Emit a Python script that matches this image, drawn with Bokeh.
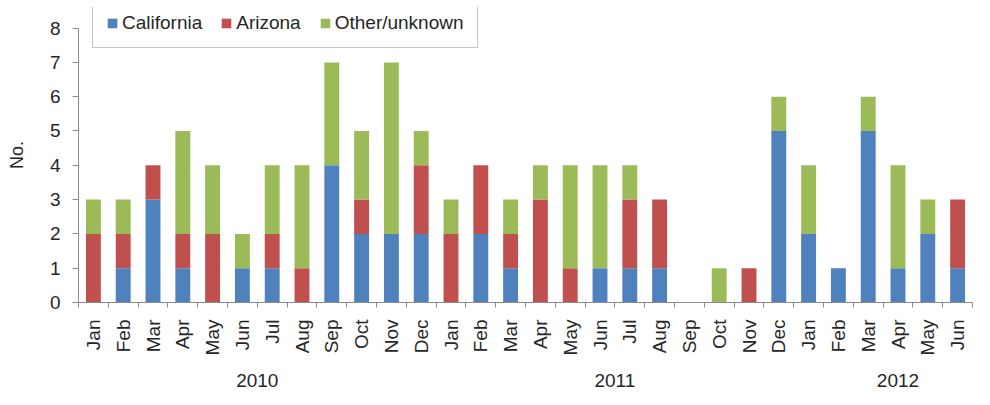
import math
from bokeh.plotting import figure
from bokeh.models import ColumnDataSource, FixedTicker, LinearAxis, Legend, LegendItem, Range1d
from bokeh.embed import file_html
from bokeh.resources import INLINE

months = ["Jan", "Feb", "Mar", "Apr", "May", "Jun", "Jul", "Aug", "Sep", "Oct", "Nov", "Dec",
          "Jan", "Feb", "Mar", "Apr", "May", "Jun", "Jul", "Aug", "Sep", "Oct", "Nov", "Dec",
          "Jan", "Feb", "Mar", "Apr", "May", "Jun"]
california = [0, 1, 3, 1, 0, 1, 1, 0, 4, 2, 2, 2,
              0, 2, 1, 0, 0, 1, 1, 1, 0, 0, 0, 5,
              2, 1, 5, 1, 2, 1]
arizona = [2, 1, 1, 1, 2, 0, 1, 1, 0, 1, 0, 2,
           2, 2, 1, 3, 1, 0, 2, 2, 0, 0, 1, 0,
           0, 0, 0, 0, 0, 2]
other = [1, 1, 0, 3, 2, 1, 2, 3, 3, 2, 5, 1,
         1, 0, 1, 1, 3, 3, 1, 0, 0, 1, 0, 1,
         2, 0, 1, 3, 1, 0]
series_names = ["California", "Arizona", "Other/unknown"]
colors = ["#4F81BD", "#C0504D", "#9BBB59"]
year_labels = ["2010", "2011", "2012"]
year_label_pos = [6, 18, 27.5]
y_ticks = [0, 1, 2, 3, 4, 5, 6, 7, 8]

FONT = "Liberation Sans"
TXT = "#262626"
AX = "#8c8c8c"

n = len(months)
centers = [i + 0.5 for i in range(n)]
source = ColumnDataSource(dict(x=centers, California=california, Arizona=arizona,
                               Other=other))

p = figure(width=974, height=389, output_backend="svg", toolbar_location=None,
           x_range=Range1d(0, n), y_range=Range1d(0, 8.6),
           min_border_top=7, min_border_bottom=0, min_border_right=2, min_border_left=78)
p.outline_line_color = None
p.grid.visible = False
p.background_fill_color = "white"
p.border_fill_color = "white"

renderers = p.vbar_stack(["California", "Arizona", "Other"], x="x", width=0.5,
                         source=source, color=colors, line_color=None)

# x axis (months)
xa = p.xaxis[0]
xa.ticker = FixedTicker(ticks=centers, minor_ticks=list(range(n + 1)))
xa.major_label_overrides = {c: m for c, m in zip(centers, months)}
xa.major_label_orientation = math.pi / 2
xa.major_tick_line_color = None
xa.major_tick_out = 0
xa.minor_tick_line_color = AX
xa.minor_tick_out = 5
xa.minor_tick_in = 0
xa.axis_line_color = AX
xa.major_label_standoff = 12
xa.major_label_text_font = FONT
xa.major_label_text_font_size = "19px"
xa.major_label_text_color = TXT

# year axis
ya2 = LinearAxis(ticker=FixedTicker(ticks=year_label_pos, minor_ticks=[]),
                 major_label_overrides={pos: lab for pos, lab in zip(year_label_pos, year_labels)})
ya2.axis_line_color = None
ya2.major_tick_line_color = None
ya2.minor_tick_line_color = None
ya2.major_tick_out = 0
ya2.major_label_standoff = 15
ya2.major_label_text_font = FONT
ya2.major_label_text_font_size = "19px"
ya2.major_label_text_color = TXT
p.add_layout(ya2, "below")

# y axis
ya = p.yaxis[0]
ya.ticker = FixedTicker(ticks=y_ticks, minor_ticks=[])
ya.bounds = (0, 8)
ya.axis_line_color = AX
ya.major_tick_line_color = AX
ya.major_tick_out = 6
ya.major_tick_in = 0
ya.major_label_standoff = 12
ya.major_label_text_font = FONT
ya.major_label_text_font_size = "19px"
ya.major_label_text_color = TXT
ya.axis_label = "No."
ya.axis_label_text_font = FONT
ya.axis_label_text_font_size = "18px"
ya.axis_label_text_font_style = "normal"
ya.axis_label_text_color = TXT
ya.axis_label_standoff = 20

legend = Legend(items=[LegendItem(label=nm, renderers=[r]) for nm, r in zip(series_names, renderers)],
                orientation="horizontal", location=(14, 254))
legend.label_text_font = FONT
legend.label_text_font_size = "19px"
legend.label_text_color = TXT
legend.glyph_width = 12
legend.glyph_height = 12
legend.label_standoff = 4
legend.spacing = 18
legend.padding = 13
legend.margin = 0
legend.border_line_color = "#8c8c8c"
legend.border_line_width = 1
legend.background_fill_color = "white"
legend.background_fill_alpha = 1
p.add_layout(legend)

open("out.html", "w").write(file_html(p, INLINE))
